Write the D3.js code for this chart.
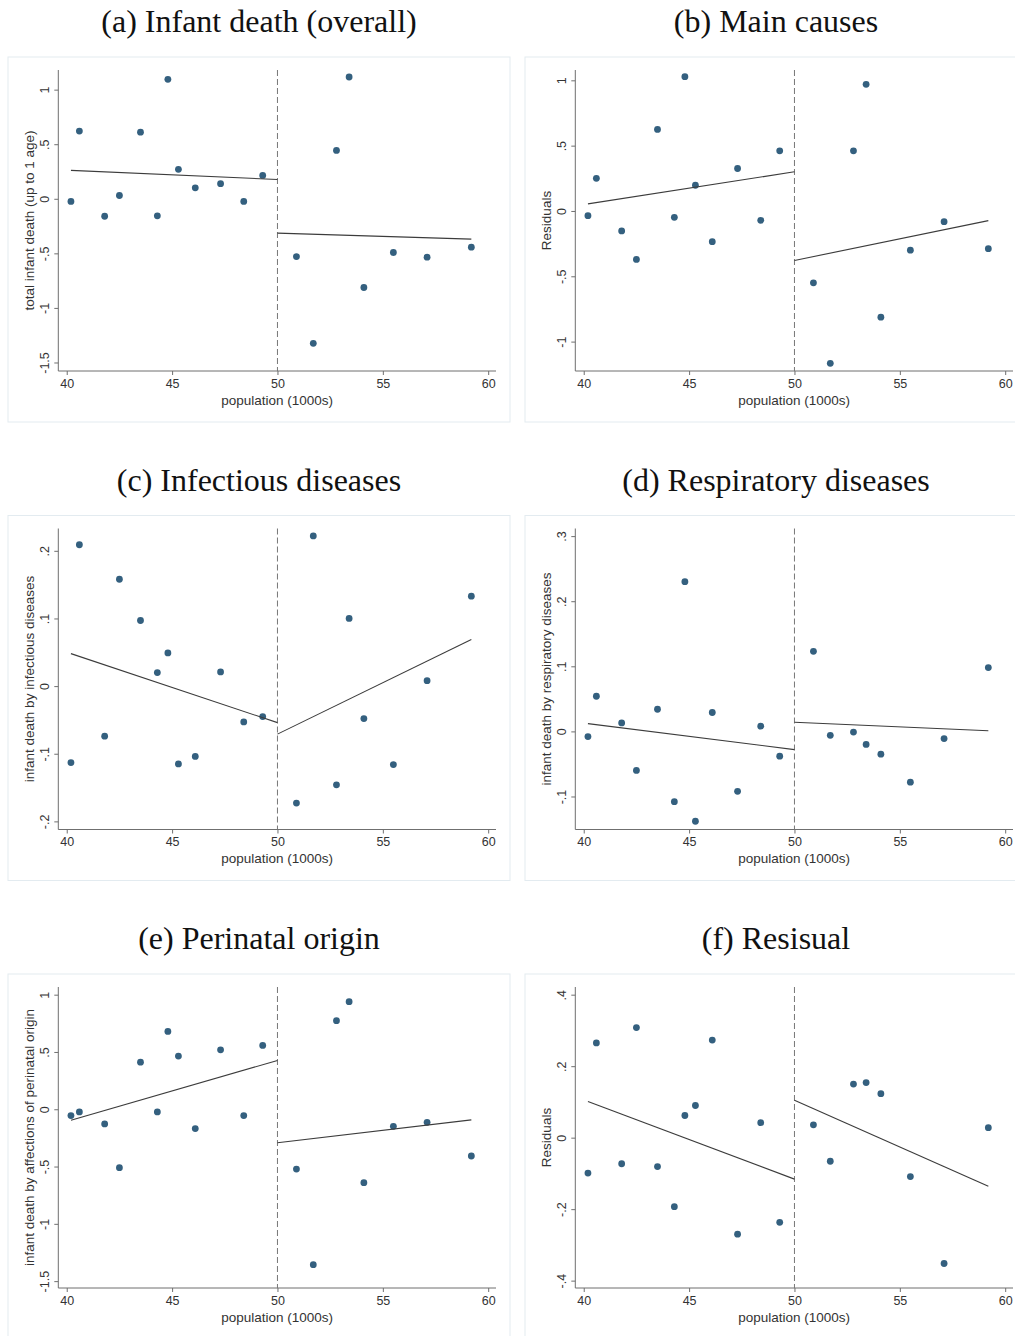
<!DOCTYPE html>
<html>
<head>
<meta charset="utf-8">
<script src="https://cdn.jsdelivr.net/npm/d3@7"></script>
<style>
  html, body { margin: 0; padding: 0; background: #ffffff; }
  svg { display: block; }
</style>
</head>
<body>
<svg id="chart" width="1015" height="1336"></svg>
<script>
// Population (thousands) of each municipality; the threshold sits at 50
const population = [40.2, 40.6, 41.8, 42.5, 43.5, 44.3, 44.8, 45.3, 46.1, 47.3, 48.4, 49.3,
                    50.9, 51.7, 52.8, 53.4, 54.1, 55.5, 57.1, 59.2];
const cutoff = 50;

// Outcome values, one per municipality
const overallDeath = [-0.024, 0.62, -0.16, 0.03, 0.61, -0.156, 1.095, 0.27, 0.10, 0.138, -0.024, 0.214,
                      -0.53, -1.324, 0.443, 1.116, -0.813, -0.492, -0.535, -0.443];
const mainCauses = [-0.036, 0.25, -0.153, -0.371, 0.624, -0.049, 1.028, 0.197, -0.235, 0.325, -0.072, 0.46,
                    -0.55, -1.166, 0.46, 0.969, -0.813, -0.30, -0.082, -0.289];
const infectious = [-0.113, 0.209, -0.074, 0.158, 0.097, 0.020, 0.049, -0.115, -0.104, 0.021, -0.053, -0.045,
                    -0.173, 0.222, -0.146, 0.100, -0.048, -0.116, 0.008, 0.133];
const respiratory = [-0.008, 0.054, 0.013, -0.060, 0.034, -0.108, 0.230, -0.138, 0.029, -0.092, 0.008, -0.038,
                     0.123, -0.006, -0.001, -0.020, -0.035, -0.078, -0.011, 0.098];
const perinatal = [-0.055, -0.023, -0.128, -0.51, 0.411, -0.023, 0.679, 0.464, -0.169, 0.519, -0.055, 0.557,
                   -0.522, -1.356, 0.773, 0.939, -0.641, -0.149, -0.114, -0.408];
const residual = [-0.099, 0.265, -0.073, 0.308, -0.081, -0.193, 0.062, 0.090, 0.273, -0.270, 0.042, -0.237,
                  0.036, -0.066, 0.150, 0.154, 0.123, -0.109, -0.352, 0.028];

// Fitted values at each end of the two linear fits (below / above the cutoff)
const fitBelow = [[0.26, 0.177], [0.054, 0.30], [0.048, -0.054], [0.012, -0.028], [-0.096, 0.426], [0.101, -0.116]];
const fitAbove = [[-0.315, -0.37], [-0.379, -0.074], [-0.071, 0.069], [0.014, 0.001], [-0.292, -0.093], [0.105, -0.136]];

// Panel titles, y-axis titles, y ranges and y ticks
const panelTitles = ["(a) Infant death (overall)", "(b) Main causes", "(c) Infectious diseases",
                     "(d) Respiratory diseases", "(e) Perinatal origin", "(f) Resisual"];
const yTitles = ["total infant death (up to 1 age)", "Residuals", "infant death by infectious diseases",
                 "infant death by respiratory diseases", "infant death by affections of perinatal origin", "Residuals"];
const yRanges = [[-1.578, 1.18], [-1.225, 1.079], [-0.212, 0.233], [-0.1507, 0.3117], [-1.56, 1.067], [-0.4206, 0.4215]];
const yTicks = [[-1.5, -1, -0.5, 0, 0.5, 1], [-1, -0.5, 0, 0.5, 1], [-0.2, -0.1, 0, 0.1, 0.2],
                [-0.1, 0, 0.1, 0.2, 0.3], [-1.5, -1, -0.5, 0, 0.5, 1], [-0.4, -0.2, 0, 0.2, 0.4]];
const xTicks = [40, 45, 50, 55, 60];
const xRange = [39.6, 60.37];
const xTitle = "population (1000s)";

const series = [overallDeath, mainCauses, infectious, respiratory, perinatal, residual];

const svg = d3.select("#chart");
const sans = "'Liberation Sans', Arial, Helvetica, sans-serif";
const serif = "'Liberation Serif', 'Times New Roman', serif";

// Number style with a plain hyphen and no leading zero: .5, -.5, 1
const stataFmt = v => {
  const s = String(Math.round(v * 1000) / 1000);
  return s.replace(/^(-?)0\./, "$1.");
};

const colStep = 517, rowStep = 458.5;
const plotLeft = 58.3, plotRight = 496, plotTop = 70, plotBottom = 371;
const markColor = "#34607f";

series.forEach((vals, i) => {
  const col = i % 2, row = Math.floor(i / 2);
  const g = svg.append("g").attr("transform", `translate(${col * colStep},${row * rowStep})`);

  // outer graph frame
  g.append("rect").attr("x", 8).attr("y", 57).attr("width", 502).attr("height", 365)
    .attr("fill", "#ffffff").attr("stroke", "#e3ebf0").attr("stroke-width", 1);

  // panel title
  g.append("text").attr("x", 259).attr("y", 32).attr("text-anchor", "middle")
    .attr("font-family", serif).attr("font-size", 32).attr("fill", "#111")
    .text(panelTitles[i]);

  const x = d3.scaleLinear().domain(xRange).range([plotLeft, plotRight]);
  const y = d3.scaleLinear().domain(yRanges[i]).range([plotBottom, plotTop]);

  // x axis
  const xAxis = g.append("g").attr("transform", `translate(0,${plotBottom})`)
    .call(d3.axisBottom(x).tickValues(xTicks).tickSize(4).tickPadding(4).tickFormat(d3.format("d")));
  xAxis.select(".domain").attr("d", `M${plotLeft},0H${plotRight}`);

  // y axis
  const yAxis = g.append("g").attr("transform", `translate(${plotLeft},0)`)
    .call(d3.axisLeft(y).tickValues(yTicks[i]).tickSize(4).tickFormat(stataFmt));
  yAxis.select(".domain").attr("d", `M0,${plotTop}V${plotBottom}`);
  yAxis.selectAll(".tick text")
    .attr("x", null).attr("dy", null)
    .attr("text-anchor", "middle")
    .attr("transform", "translate(-9.8,0) rotate(-90)");

  [xAxis, yAxis].forEach(ax => {
    ax.select(".domain").attr("stroke", "#6f6f6f").attr("stroke-width", 1);
    ax.selectAll(".tick line").attr("stroke", "#6f6f6f");
    ax.selectAll(".tick text").attr("fill", "#333").attr("font-family", sans).attr("font-size", 12.5);
  });

  // axis titles
  g.append("text").attr("x", (plotLeft + plotRight) / 2).attr("y", 404.5).attr("text-anchor", "middle")
    .attr("font-family", sans).attr("font-size", 13.5).attr("fill", "#333").text(xTitle);
  g.append("text").attr("transform", `translate(34,${(plotTop + plotBottom) / 2}) rotate(-90)`)
    .attr("text-anchor", "middle").attr("font-family", sans).attr("font-size", 13.5).attr("fill", "#333")
    .text(yTitles[i]);

  // threshold line
  g.append("line").attr("x1", x(cutoff)).attr("x2", x(cutoff)).attr("y1", plotTop).attr("y2", plotBottom)
    .attr("stroke", "#777").attr("stroke-width", 1).attr("stroke-dasharray", "6,3");

  // points
  g.append("g").selectAll("circle").data(vals).join("circle")
    .attr("cx", (d, k) => x(population[k])).attr("cy", d => y(d))
    .attr("r", 3.4).attr("fill", markColor);

  // linear fits on each side of the cutoff
  const below = population.filter(p => p < cutoff);
  const above = population.filter(p => p >= cutoff);
  const fits = [
    [[d3.min(below), fitBelow[i][0]], [cutoff, fitBelow[i][1]]],
    [[cutoff, fitAbove[i][0]], [d3.max(above), fitAbove[i][1]]]
  ];
  const line = d3.line().x(d => x(d[0])).y(d => y(d[1]));
  fits.forEach(f => {
    g.append("path").attr("d", line(f)).attr("fill", "none")
      .attr("stroke", "#3c3c3c").attr("stroke-width", 1.1);
  });
});
</script>
</body>
</html>
